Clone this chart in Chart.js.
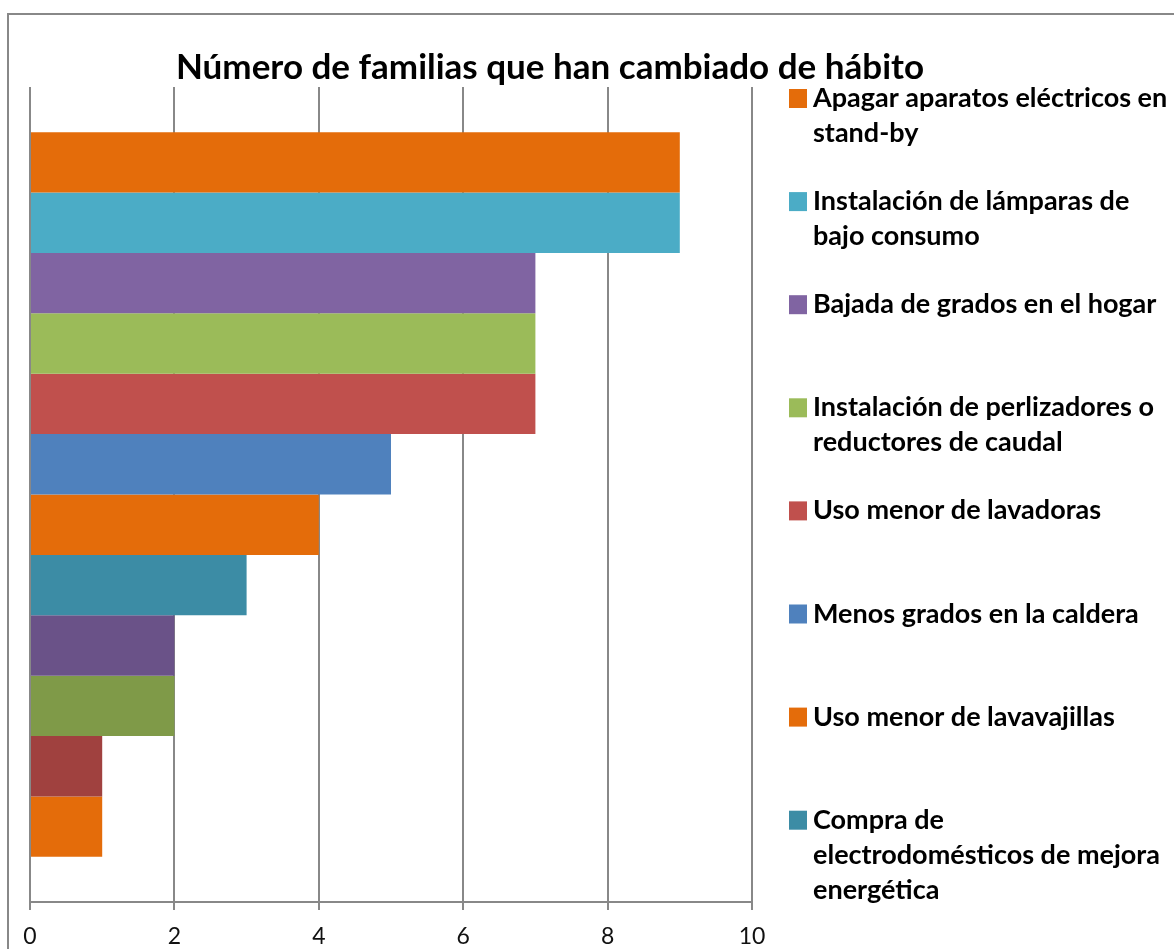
<!DOCTYPE html>
<html>
<head>
<meta charset="utf-8">
<script src="https://cdn.jsdelivr.net/npm/chart.js@4"></script>
<style>
html,body{margin:0;padding:0;background:#fff;}
#wrap{width:1174px;height:949px;position:relative;}
</style>
</head>
<body>
<div id="wrap"><canvas id="c" width="1174" height="949"></canvas></div>
<script>
const chartTitle = "Número de familias que han cambiado de hábito";
const categories = [""];
const seriesNames = [
  ["Apagar aparatos eléctricos en", "stand-by"],
  ["Instalación de lámparas de", "bajo consumo"],
  ["Bajada de grados en el hogar"],
  ["Instalación de perlizadores o", "reductores de caudal"],
  ["Uso menor de lavadoras"],
  ["Menos grados en la caldera"],
  ["Uso menor de lavavajillas"],
  ["Compra de", "electrodomésticos de mejora", "energética"],
  ["Serie 9"],
  ["Serie 10"],
  ["Serie 11"],
  ["Serie 12"]
];
const seriesValues = [9, 9, 7, 7, 7, 5, 4, 3, 2, 2, 1, 1];
const seriesColors = ["#E46C0A", "#4BACC6", "#8064A2", "#9BBB59", "#C0504D", "#4F81BD",
                      "#E46C0A", "#3C8CA5", "#6A5288", "#7F9A48", "#A0413F", "#E46C0A"];
const legendCount = 8;
const xTicks = [0, 2, 4, 6, 8, 10];

const datasets = seriesValues.map((v, i) => ({
  label: seriesNames[i].join(" "),
  data: [v],
  backgroundColor: seriesColors[i],
  borderWidth: 0,
  barPercentage: 1.0,
  categoryPercentage: 0.889
}));

const decor = {
  id: 'decor',
  beforeDraw(chart) {
    const ctx = chart.ctx;
    ctx.save();
    ctx.fillStyle = '#fff';
    ctx.fillRect(0, 0, chart.width, chart.height);
    ctx.strokeStyle = '#888';
    ctx.lineWidth = 2;
    ctx.strokeRect(8, 14, 1400, 1200);
    ctx.restore();
  },
  afterDraw(chart) {
    const ctx = chart.ctx;
    ctx.save();
    ctx.fillStyle = '#000';
    ctx.font = 'bold 35px Lato';
    ctx.textAlign = 'center';
    ctx.textBaseline = 'alphabetic';
    ctx.fillText(chartTitle, 550, 79);
    ctx.textAlign = 'left';
    ctx.font = 'bold 27px Lato';
    for (let i = 0; i < legendCount; i++) {
      const base = 107 + 103.1 * i;
      ctx.fillStyle = seriesColors[i];
      ctx.fillRect(789, base - 18, 18, 19);
      ctx.fillStyle = '#000';
      seriesNames[i].forEach((line, j) => {
        ctx.fillText(line, 813, base + 35 * j);
      });
    }
    ctx.restore();
  }
};

new Chart(document.getElementById('c'), {
  type: 'bar',
  data: { labels: categories, datasets },
  plugins: [decor],
  options: {
    indexAxis: 'y',
    responsive: false,
    animation: false,
    devicePixelRatio: 1,
    layout: { padding: { left: 30, right: 422, top: 87, bottom: 0 } },
    plugins: { legend: { display: false }, title: { display: false }, tooltip: { enabled: false } },
    scales: {
      y: { display: false },
      x: {
        min: 0, max: 10,
        afterBuildTicks(scale) { scale.ticks = xTicks.map(v => ({ value: v })); },
        afterFit(scale) { scale.height = 47; },
        grid: { color: '#888', lineWidth: 2, tickLength: 8, drawTicks: true },
        border: { color: '#888', width: 2 },
        ticks: { color: '#111', font: { family: 'Lato', size: 23 }, padding: 13, maxRotation: 0 }
      }
    }
  }
});
</script>
</body>
</html>
